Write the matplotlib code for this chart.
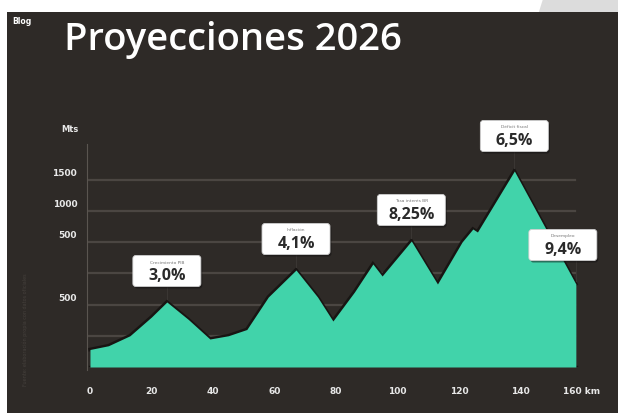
import matplotlib
matplotlib.use("Agg")
import matplotlib.pyplot as plt
from matplotlib.patches import Polygon, Rectangle, FancyBboxPatch
from matplotlib import transforms

# Perfil de elevacion (km, metros)
km = [0, 6, 13, 20, 25, 32, 39, 45, 51, 58, 67, 74, 79, 86, 92, 95, 104.5, 113, 121, 124.5, 126, 138, 158]
alt = [140, 170, 250, 400, 520, 380, 224, 250, 300, 560, 776, 560, 368, 600, 824, 728, 1008, 664, 1000, 1104, 1080, 1568, 664]

# Lineas de referencia y etiquetas del eje
grid_levels = [250, 500, 750, 1000, 1250, 1500]
ytick_pos = [500, 1000, 1250, 1500]
ytick_labels = ["500", "500", "1000", "1500"]
xtick_pos = [0, 20, 40, 60, 80, 100, 120, 140, 160]
xtick_labels = ["0", "20", "40", "60", "80", "100", "120", "140", "160 km"]

# Indicadores proyectados
callout_names = ["Crecimiento PIB", "Inflación", "Tasa interés BR", "Déficit fiscal", "Desempleo"]
callout_values = ["3,0%", "4,1%", "8,25%", "6,5%", "9,4%"]
callout_km = [25, 67, 104.5, 138, 158]

bg = "#2e2a27"
mint = "#41d3aa"
grid_c = "#4b4642"

fig = plt.figure(figsize=(6.18, 4.14), dpi=100)
fig.patch.set_facecolor("white")
# esquina gris arriba a la derecha
fig.patches.append(Polygon([[543 / 618, 1], [1, 1], [1, 0.9], [530 / 618, 0.9]],
                           closed=True, transform=fig.transFigure, facecolor="#dcdcdc",
                           edgecolor="none", zorder=-3))
fig.patches.append(Rectangle((7 / 618, 0), 1, 1 - 13 / 414, transform=fig.transFigure,
                             facecolor=bg, edgecolor="none", zorder=-2))

ax = fig.add_axes([86.9 / 618, 46 / 414, 495.1 / 618, 223 / 414])
ax.set_facecolor("none")
ax.set_xlim(-1, 160)
ax.set_ylim(0, 1784)

for g in grid_levels:
    ax.axhline(g, xmin=0, xmax=0.985, color=grid_c, lw=1.6, zorder=1)

# relleno del perfil con borde oscuro
ax.plot(km, alt, color="#181513", lw=2.6, zorder=2, solid_joinstyle="miter")
ax.fill_between(km, 0, alt, color=mint, zorder=3, linewidth=0)
ax.plot([km[0], km[-1]], [0, 0], color="#181513", lw=2.5, zorder=2)

for s in ["top", "right", "bottom"]:
    ax.spines[s].set_visible(False)
ax.spines["left"].set_color("#5a5550")
ax.spines["left"].set_linewidth(0.8)
ax.spines["left"].set_bounds(-20, 1784)

ax.set_xticks(xtick_pos)
ax.set_xticklabels(xtick_labels, color="#e8e8e8", fontsize=6.5, fontweight="bold")
ax.set_yticks(ytick_pos)
ax.set_yticklabels(ytick_labels, color="#e8e8e8", fontsize=6.5, fontweight="bold")
ax.tick_params(length=0, pad=14, axis="x")
ax.tick_params(length=0, pad=7, axis="y")
for lbl in ax.get_yticklabels():
    lbl.set_transform(lbl.get_transform() + transforms.ScaledTranslation(0, 0.08, fig.dpi_scale_trans))
ax.text(-0.016, 1.07, "Mts", transform=ax.transAxes, color="#e8e8e8", fontsize=6,
        fontweight="bold", ha="right", va="center")

# recuadros de los indicadores
offsets = [(0, 0.31), (0, 0.31), (0, 0.31), (0, 0.35), (-0.13, 0.39)]
for name, val, xk, (dx, dy) in zip(callout_names, callout_values, callout_km, offsets):
    yk = alt[km.index(xk)]
    tr = fig.dpi_scale_trans + transforms.ScaledTranslation(xk, yk, ax.transData)
    w, h = 0.68, 0.31
    ax.plot([0, 0], [0.03, dy - h / 2], color="#3a3633", lw=0.8, transform=tr, zorder=4,
            clip_on=False)
    ax.add_patch(FancyBboxPatch((dx - w / 2 + 0.015, dy - h / 2 - 0.02), w, h,
                                boxstyle="round,pad=0,rounding_size=0.03", transform=tr,
                                facecolor="#111010", edgecolor="none", alpha=0.5, zorder=5,
                                clip_on=False))
    ax.add_patch(FancyBboxPatch((dx - w / 2, dy - h / 2), w, h,
                                boxstyle="round,pad=0,rounding_size=0.03", transform=tr,
                                facecolor="white", edgecolor="#cfcfcf", lw=0.6, zorder=6,
                                clip_on=False))
    ax.text(dx, dy + 0.095, name, transform=tr, ha="center", va="center", fontsize=3.2,
            color="#777777", zorder=7, clip_on=False)
    ax.text(dx, dy - 0.04, val, transform=tr, ha="center", va="center", fontsize=11.5,
            fontweight="bold", color="#2a2a2a", family="Open Sans", zorder=7, clip_on=False)

fig.text(64 / 618, 1 - 40 / 414, "Proyecciones 2026", color="white", fontsize=27.5,
         family="Open Sans", fontweight="semibold", ha="left", va="center")
fig.text(12 / 618, 1 - 22 / 414, "Blog", color="white", fontsize=5.5, fontweight="bold",
         ha="left", va="center")
fig.text(25 / 618, 1 - 330 / 414, "Fuente: elaboración propia con datos oficiales",
         color="#45403c", fontsize=3.5, rotation=90, ha="center", va="center")

fig.savefig("out.png", dpi=100)
